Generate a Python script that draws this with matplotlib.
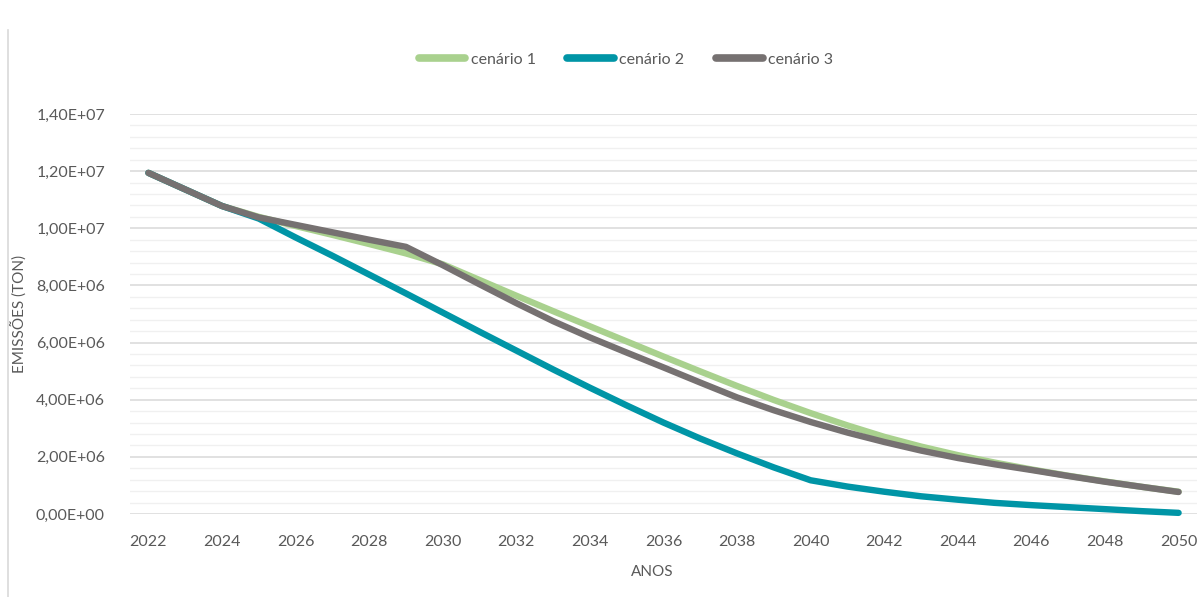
import matplotlib
matplotlib.use("Agg")
import matplotlib.pyplot as plt
from matplotlib.lines import Line2D
from matplotlib.ticker import FuncFormatter, MultipleLocator

# Annual emissions (tonnes) per scenario, 2022-2050
years = list(range(2022, 2051))

cenario_1 = [11.94e6, 11.36e6, 10.78e6, 10.40e6, 10.08e6, 9.77e6, 9.45e6, 9.12e6,
             8.74e6, 8.19e6, 7.64e6, 7.10e6, 6.57e6, 6.04e6, 5.51e6, 4.99e6,
             4.48e6, 3.99e6, 3.53e6, 3.10e6, 2.70e6, 2.36e6, 2.06e6, 1.80e6,
             1.56e6, 1.34e6, 1.14e6, 0.95e6, 0.78e6]

cenario_2 = [11.94e6, 11.36e6, 10.78e6, 10.34e6, 9.68e6, 9.04e6, 8.38e6, 7.72e6,
             7.05e6, 6.38e6, 5.72e6, 5.06e6, 4.42e6, 3.80e6, 3.20e6, 2.64e6,
             2.12e6, 1.63e6, 1.18e6, 0.96e6, 0.78e6, 0.62e6, 0.50e6, 0.39e6,
             0.31e6, 0.24e6, 0.17e6, 0.10e6, 0.04e6]

cenario_3 = [11.94e6, 11.36e6, 10.78e6, 10.38e6, 10.12e6, 9.86e6, 9.60e6, 9.35e6,
             8.71e6, 8.04e6, 7.38e6, 6.75e6, 6.18e6, 5.65e6, 5.13e6, 4.60e6,
             4.08e6, 3.63e6, 3.22e6, 2.85e6, 2.52e6, 2.22e6, 1.96e6, 1.74e6,
             1.54e6, 1.33e6, 1.13e6, 0.95e6, 0.77e6]

series_names = ["cenário 1", "cenário 2", "cenário 3"]
series_colors = ["#A9D18E", "#0095A6", "#767171"]

tick_years = list(range(2022, 2051, 2))
x_label = "ANOS"
y_label = "EMISSÕES (TON)"

plt.rcParams["font.family"] = ["Lato", "DejaVu Sans"]
text_color = "#595959"

W, H = 1198, 597
fig = plt.figure(figsize=(W / 100, H / 100), dpi=100)
fig.patch.set_facecolor("white")

px_left, px_right, px_bottom, px_top = 130, 1197, 514, 114
left, right = px_left / W, px_right / W
bottom, top = (H - px_bottom) / H, (H - px_top) / H
ax = fig.add_axes([left, bottom, right - left, top - bottom])

for vals, name, color in zip([cenario_1, cenario_2, cenario_3], series_names, series_colors):
    ax.plot(years, vals, color=color, lw=4.6, solid_capstyle="round",
            solid_joinstyle="round", label=name, zorder=3, clip_on=False)

ax.set_xlim(2021.5, 2050.5)
ax.set_ylim(0, 1.4e7)
ax.set_xticks(tick_years)
ax.set_xticklabels([str(y) for y in tick_years])
ax.yaxis.set_major_locator(MultipleLocator(2e6))
ax.yaxis.set_minor_locator(MultipleLocator(4e5))


def sci_comma(v, pos):
    return f"{v:.2E}".replace(".", ",")


ax.yaxis.set_major_formatter(FuncFormatter(sci_comma))

ax.grid(which="major", axis="y", color="#D9D9D9", lw=1.1, zorder=1)
ax.grid(which="minor", axis="y", color="#F0F0F0", lw=1.0, zorder=0)
ax.grid(which="major", axis="x", visible=False)
for sp in ax.spines.values():
    sp.set_visible(False)
ax.tick_params(axis="both", which="both", length=0, colors=text_color, labelsize=11.5)
ax.tick_params(axis="x", pad=15)
ax.tick_params(axis="y", pad=18)

ax_w = px_right - px_left
ax_h = px_bottom - px_top
ax.set_xlabel(x_label, color=text_color, fontsize=11)
ax.xaxis.set_label_coords((652 - px_left) / ax_w, -(565 - px_bottom) / ax_h)
ax.set_ylabel(y_label, color=text_color, fontsize=11)
ax.yaxis.set_label_coords((28 - px_left) / ax_w, 0.5)

leg = fig.legend(loc="center", bbox_to_anchor=(626 / W, 1 - 60 / H), ncol=3,
                 frameon=False, fontsize=11.5, handlelength=2.9, handletextpad=0.35,
                 columnspacing=2.0, labelcolor=text_color)
for h in leg.get_lines():
    h.set_linewidth(5.5)
    h.set_solid_capstyle("round")

# chart border remnant on the left
fig.add_artist(Line2D([8 / W, 8 / W], [0, 1 - 30 / H], color="#D9D9D9", lw=1.2))

fig.savefig("out.png", dpi=100, facecolor="white")
